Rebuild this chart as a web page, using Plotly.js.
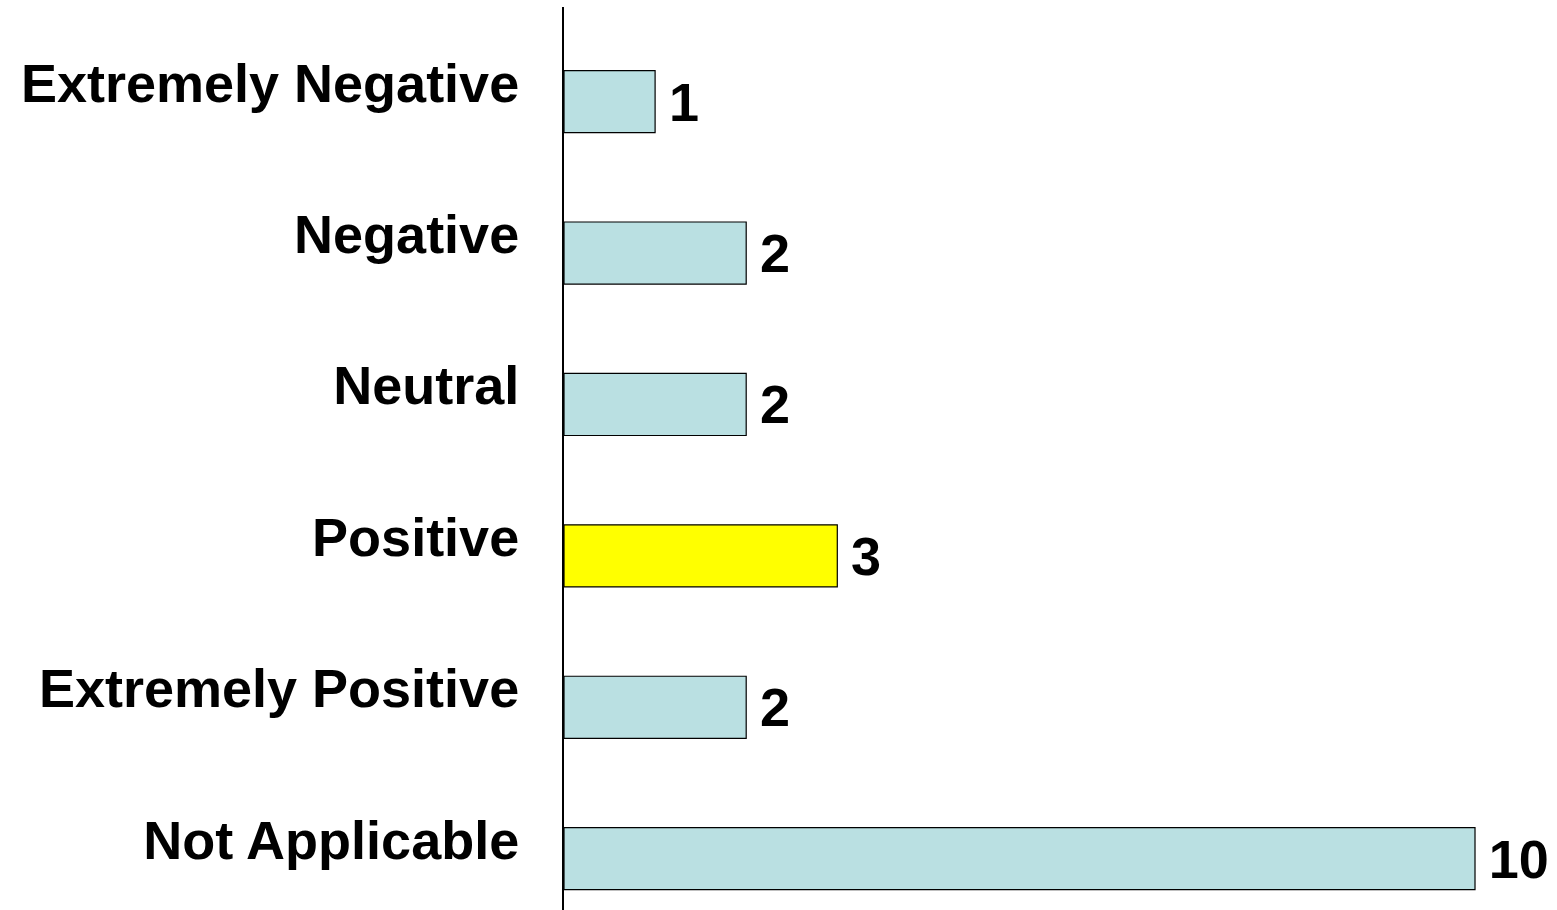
<!DOCTYPE html>
<html>
<head>
<meta charset="utf-8">
<script src="https://cdn.plot.ly/plotly-3.0.1.min.js"></script>
<style>
  html, body { margin: 0; padding: 0; background: #fff; }
  #chart { width: 1557px; height: 910px; }
</style>
</head>
<body>
<div id="chart"></div>
<script>
// Chart data
const categories = ['Extremely Negative', 'Negative', 'Neutral', 'Positive', 'Extremely Positive', 'Not Applicable'];
const counts = [1, 2, 2, 3, 2, 10];
const highlight = 'Positive';

// Styles
const baseColor = '#BAE0E2';
const highlightColor = '#FFFF00';
const labelFont = { family: 'Liberation Sans, Arial, sans-serif', size: 54, color: '#000', weight: 'bold' };

const barColors = categories.map(c => c === highlight ? highlightColor : baseColor);

const trace = {
    type: 'bar',
    orientation: 'h',
    y: categories,
    x: counts,
    // thin space in front to push the value a little away from the bar end
    text: counts.map(v => '\u2009' + v),
    textposition: 'outside',
    textfont: labelFont,
    cliponaxis: false,
    width: 0.41,
    offset: -0.08,
    marker: {
        color: barColors,
        line: { color: '#000', width: 1.2 }
    },
    hoverinfo: 'none'
};

const layout = {
    width: 1557,
    height: 910,
    margin: { l: 564, r: 0, t: 7, b: 0 },
    paper_bgcolor: 'white',
    plot_bgcolor: 'white',
    showlegend: false,
    xaxis: {
        range: [0, 10.9],
        showgrid: false,
        zeroline: false,
        showline: false,
        showticklabels: false,
        ticks: ''
    },
    yaxis: {
        type: 'category',
        range: [5.464, -0.5],
        showgrid: false,
        zeroline: false,
        showline: true,
        linecolor: '#000',
        linewidth: 2,
        ticks: '',
        ticklabelstandoff: 32,
        tickfont: labelFont
    }
};

Plotly.newPlot('chart', [trace], layout, { staticPlot: true });
</script>
</body>
</html>
